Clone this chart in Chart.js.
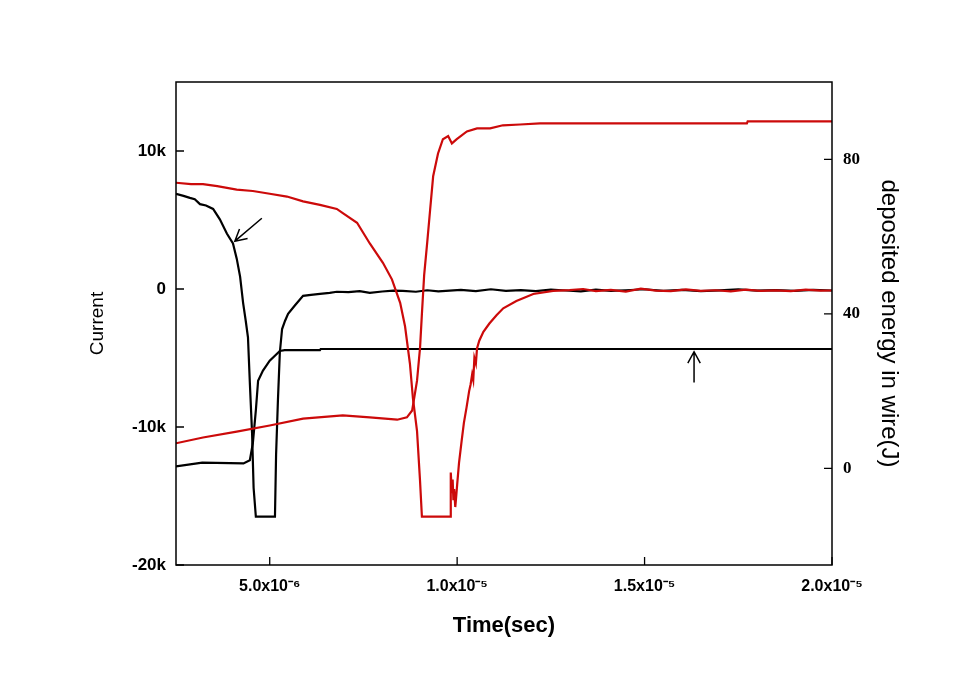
<!DOCTYPE html>
<html>
<head>
<meta charset="utf-8">
<script src="https://cdn.jsdelivr.net/npm/chart.js@4.4.1/dist/chart.umd.min.js"></script>
<style>
  html, body { margin: 0; padding: 0; background: #fff; }
  canvas { display: block; }
</style>
</head>
<body>
<canvas id="pulseChart" width="968" height="679"></canvas>
<script>
// time in microseconds, current in A, energy in J
const currentBlackTime = [2.5, 2.7, 2.87, 3.0, 3.14, 3.3, 3.49, 3.67, 3.86, 4.02, 4.12, 4.21, 4.29, 4.36, 4.42, 4.47, 4.53, 4.57, 4.63,
  5.14, 5.17, 5.22, 5.27, 5.33, 5.41, 5.49, 5.67, 5.89, 6.1, 6.34, 6.6, 6.79, 7.1, 7.4, 7.67, 8.0, 8.3, 8.55, 8.9, 9.2, 9.5, 9.8,
  10.1, 10.5, 10.9, 11.3, 11.7, 12.1, 12.5, 12.9, 13.3, 13.7, 14.1, 14.5, 15.0, 15.5, 16.0, 16.5, 17.0, 17.5, 18.0, 18.5, 19.0, 19.5, 20.0];
const currentBlack = [6900, 6750, 6600, 6500, 6150, 6050, 5800, 5050, 4000, 3300, 2200, 900, -1000, -2300, -3500, -6800, -10500, -14400, -16500,
  -16500, -12000, -8000, -4600, -2900, -2300, -1800, -1200, -500, -420, -360, -280, -200, -230, -150, -280, -180, -120, -140, -200, -90, -170, -120,
  -60, -150, -20, -130, -80, -160, -40, -110, -170, -50, -130, -90, -20, -140, -60, -150, -100, -30, -120, -80, -140, -60, -110];

const energyBlackTime = [2.5, 3.2, 4.3, 4.47, 4.55, 4.63, 4.69, 4.82, 5.0, 5.27, 5.4, 6.34, 6.36, 20.0];
const energyBlack = [0.5, 1.5, 1.3, 2.1, 6.5, 15, 22.7, 25.3, 27.9, 30.4, 30.6, 30.6, 30.9, 30.9];

const currentRedTime = [2.5, 2.9, 3.22, 3.6, 4.12, 4.55, 5.0, 5.46, 5.89, 6.34, 6.79, 6.95, 7.33, 7.67, 8.02, 8.26, 8.48, 8.61, 8.74, 8.82, 8.93, 9.01, 9.06,
  9.81, 9.83, 9.86, 9.88, 9.9, 9.92, 9.95, 9.97, 10.0, 10.05, 10.12, 10.18, 10.25, 10.32, 10.36, 10.4, 10.43, 10.46, 10.5, 10.53, 10.59, 10.7, 10.86,
  11.05, 11.23, 11.58, 12.03, 12.56, 13.0, 13.36, 13.7, 14.1, 14.5, 14.9, 15.3, 15.7, 16.1, 16.5, 16.9, 17.3, 17.7, 18.1, 18.5, 18.9, 19.3, 19.7, 20.0];
const currentRed = [7700, 7600, 7600, 7450, 7200, 7100, 6900, 6700, 6350, 6100, 5800, 5500, 4800, 3300, 1900, 700, -1000, -2700, -5400, -7900, -10300, -13900, -16500,
  -16500, -13300, -14800, -13800, -15300, -14500, -15800, -15200, -14200, -12600, -11000, -9700, -8600, -7400, -6900, -6200, -6600, -5000, -5400, -4300, -3750, -3100, -2500,
  -1900, -1400, -870, -360, -140, -80, 0, -150, -60, -190, 20, -120, -160, -30, -140, -90, -170, -50, -130, -100, -160, -40, -120, -110];

const energyRedTime = [2.5, 3.22, 4.12, 5.0, 5.89, 6.95, 7.67, 8.4, 8.66, 8.8, 8.93, 9.01, 9.06, 9.12, 9.2, 9.28, 9.36, 9.49, 9.62, 9.76, 9.86, 9.99,
  10.26, 10.53, 10.88, 11.22, 11.68, 12.21, 17.73, 17.75, 20.0];
const energyRed = [6.5, 8.0, 9.5, 11.1, 12.9, 13.7, 13.2, 12.6, 13.2, 15, 22.7, 31.2, 40, 50, 58.3, 67, 75.6, 81.5, 85.2, 86, 84.1, 85.2,
  87.2, 88, 88, 88.8, 89, 89.3, 89.3, 89.8, 89.8];

const timeTicks = [5e-6, 1e-5, 1.5e-5, 2e-5];
const timeTickLabels = ['5.0x10\u207B\u2076', '1.0x10\u207B\u2075', '1.5x10\u207B\u2075', '2.0x10\u207B\u2075'];
const currentTicks = [-20000, -10000, 0, 10000];
const currentTickLabels = ['-20k', '-10k', '0', '10k'];
const energyTicks = [0, 40, 80];
const energyTickLabels = ['0', '40', '80'];

// arrows: [tail time (us), tail value, head time (us), head value, axis]
const arrows = [
  [4.79, 5130, 4.07, 3470, 'y'],
  [16.32, 22.2, 16.32, 30.2, 'y2']
];

const RED = '#cc0a0a';
const BLACK = '#000000';

function toPoints(times, values) {
  return times.map((t, i) => ({ x: t * 1e-6, y: values[i] }));
}

const frameAndTicks = {
  id: 'frameAndTicks',
  afterDatasetsDraw(chart) {
    const { ctx, chartArea: a, scales } = chart;
    ctx.save();
    ctx.strokeStyle = '#000';
    ctx.lineWidth = 1.5;
    ctx.strokeRect(a.left, a.top, a.right - a.left, a.bottom - a.top);
    ctx.lineWidth = 1.3;
    const len = 8;
    ctx.beginPath();
    scales.x.ticks.forEach(t => {
      const px = scales.x.getPixelForValue(t.value);
      ctx.moveTo(px, a.bottom); ctx.lineTo(px, a.bottom - len);
    });
    scales.y.ticks.forEach(t => {
      const py = scales.y.getPixelForValue(t.value);
      ctx.moveTo(a.left, py); ctx.lineTo(a.left + len, py);
    });
    scales.y2.ticks.forEach(t => {
      const py = scales.y2.getPixelForValue(t.value);
      ctx.moveTo(a.right, py); ctx.lineTo(a.right - len, py);
    });
    ctx.stroke();

    // arrows
    ctx.lineWidth = 1.5;
    arrows.forEach(([t0, v0, t1, v1, axis]) => {
      const x0 = scales.x.getPixelForValue(t0 * 1e-6), y0 = scales[axis].getPixelForValue(v0);
      const x1 = scales.x.getPixelForValue(t1 * 1e-6), y1 = scales[axis].getPixelForValue(v1);
      const ang = Math.atan2(y1 - y0, x1 - x0);
      const head = 13;
      ctx.beginPath();
      ctx.moveTo(x0, y0); ctx.lineTo(x1, y1);
      ctx.moveTo(x1 - head * Math.cos(ang - 0.5), y1 - head * Math.sin(ang - 0.5));
      ctx.lineTo(x1, y1);
      ctx.lineTo(x1 - head * Math.cos(ang + 0.5), y1 - head * Math.sin(ang + 0.5));
      ctx.stroke();
    });
    ctx.restore();
  }
};

const chart = new Chart(document.getElementById('pulseChart').getContext('2d'), {
  type: 'line',
  data: {
    datasets: [
      { data: toPoints(currentRedTime, currentRed), yAxisID: 'y', borderColor: RED },
      { data: toPoints(energyRedTime, energyRed), yAxisID: 'y2', borderColor: RED },
      { data: toPoints(currentBlackTime, currentBlack), yAxisID: 'y', borderColor: BLACK },
      { data: toPoints(energyBlackTime, energyBlack), yAxisID: 'y2', borderColor: BLACK }
    ]
  },
  options: {
    responsive: false,
    animation: false,
    layout: { padding: { top: 82, left: 0, right: 0, bottom: 0 } },
    elements: {
      point: { radius: 0 },
      line: { borderWidth: 2.2, tension: 0, fill: false }
    },
    plugins: {
      legend: { display: false },
      tooltip: { enabled: false }
    },
    scales: {
      x: {
        type: 'linear',
        position: 'bottom',
        min: 2.5e-6,
        max: 2.0e-5,
        afterBuildTicks: s => { s.ticks = timeTicks.map(v => ({ value: v })); },
        afterFit: s => { s.height = 114; },
        grid: { display: false, drawTicks: false },
        border: { display: false },
        ticks: {
          autoSkip: false, maxRotation: 0, padding: 12, color: '#000',
          font: { family: 'Liberation Sans, Arial, sans-serif', size: 16, weight: 'bold' },
          callback: (v, i) => timeTickLabels[i]
        },
        title: {
          display: true, text: 'Time(sec)', color: '#000',
          font: { family: 'Liberation Sans, Arial, sans-serif', size: 22, weight: 'bold' },
          padding: { top: 0, bottom: 40 }
        }
      },
      y: {
        position: 'left',
        min: -20000,
        max: 15000,
        afterBuildTicks: s => { s.ticks = currentTicks.map(v => ({ value: v })); },
        afterFit: s => { s.width = 176; },
        grid: { display: false, drawTicks: false },
        border: { display: false },
        ticks: {
          autoSkip: false, padding: 10, color: '#000',
          font: { family: 'Liberation Sans, Arial, sans-serif', size: 17, weight: 'bold' },
          callback: (v, i) => currentTickLabels[i]
        },
        title: {
          display: true, text: 'Current', color: '#000',
          font: { family: 'Liberation Sans, Arial, sans-serif', size: 19 },
          padding: { top: 86, bottom: 0 }
        }
      },
      y2: {
        position: 'right',
        min: -25,
        max: 100,
        afterBuildTicks: s => { s.ticks = energyTicks.map(v => ({ value: v })); },
        afterFit: s => { s.width = 136; },
        grid: { display: false, drawTicks: false },
        border: { display: false },
        ticks: {
          autoSkip: false, padding: 11, color: '#000',
          font: { family: 'Liberation Serif, Times New Roman, serif', size: 17, weight: 'bold' },
          callback: (v, i) => energyTickLabels[i]
        },
        title: {
          display: true, text: 'deposited energy in wire(J)', color: '#000',
          font: { family: 'Liberation Sans, Arial, sans-serif', size: 24 },
          padding: { top: 65, bottom: 0 }
        }
      }
    }
  },
  plugins: [frameAndTicks]
});
</script>
</body>
</html>
